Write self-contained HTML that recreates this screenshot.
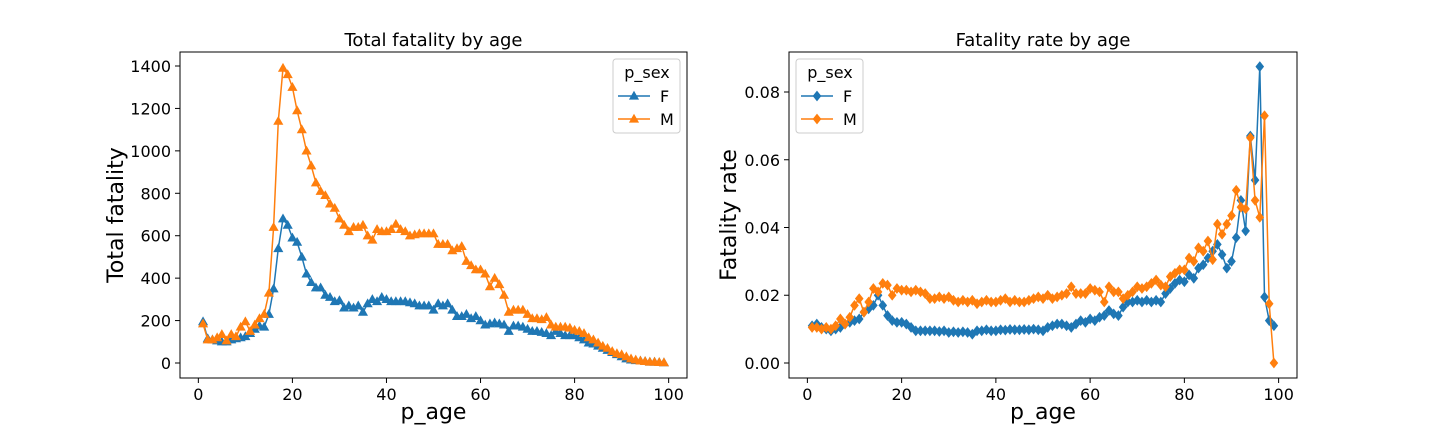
<!DOCTYPE html>
<html><head><meta charset="utf-8"><style>
body{margin:0;background:#fff;}
svg{display:block;font-family:"DejaVu Sans","Liberation Sans",sans-serif;}
</style></head><body>
<svg id="fig" width="1440" height="432" viewBox="0 0 1440 432" xmlns="http://www.w3.org/2000/svg"></svg>
<script>
const ages = Array.from({length:99},(_,i)=>i+1);
const totalF = [195,115,110,105,100,100,110,115,120,125,140,160,175,170,230,350,540,680,650,590,570,500,420,380,355,355,320,310,290,295,260,270,260,270,240,280,300,290,310,300,290,290,290,290,285,280,270,270,270,250,280,270,280,250,220,220,230,210,220,200,180,185,190,185,180,150,175,175,170,160,150,150,145,140,130,150,140,130,130,130,120,110,95,90,80,70,60,50,40,30,20,15,12,10,8,5,5,3,2];
const totalM = [185,110,110,120,135,105,135,125,170,195,150,180,210,230,330,640,1140,1390,1360,1300,1190,1100,1000,930,850,810,790,750,730,680,650,620,640,640,650,600,580,630,620,620,630,655,630,620,600,605,610,610,610,610,560,560,560,530,540,550,480,460,440,440,420,360,400,370,320,240,250,250,250,230,210,210,205,215,180,170,170,170,165,155,150,140,120,110,95,80,70,55,45,40,30,20,15,10,8,5,5,3,2];
const rateF = [0.011,0.0115,0.0105,0.010,0.0095,0.010,0.0105,0.0115,0.012,0.0125,0.013,0.015,0.016,0.017,0.020,0.017,0.014,0.0125,0.012,0.012,0.0115,0.0105,0.0095,0.0095,0.0095,0.0095,0.0095,0.0093,0.0095,0.009,0.0092,0.009,0.0092,0.009,0.0085,0.0095,0.0095,0.0098,0.0095,0.0095,0.0098,0.0097,0.0099,0.0098,0.0098,0.0099,0.0098,0.010,0.0098,0.0095,0.0105,0.011,0.0115,0.0115,0.011,0.0105,0.0115,0.0125,0.012,0.013,0.0125,0.0135,0.014,0.0155,0.0145,0.014,0.0165,0.018,0.018,0.0185,0.018,0.0185,0.018,0.0185,0.018,0.0205,0.022,0.0235,0.0245,0.024,0.026,0.025,0.028,0.029,0.031,0.033,0.035,0.032,0.028,0.030,0.037,0.048,0.039,0.067,0.054,0.0875,0.0195,0.0125,0.011];
const rateM = [0.0105,0.0105,0.010,0.0105,0.010,0.011,0.013,0.0115,0.0135,0.017,0.019,0.015,0.018,0.022,0.021,0.0235,0.023,0.020,0.022,0.0215,0.0215,0.021,0.0215,0.021,0.0205,0.019,0.019,0.0195,0.019,0.0195,0.0185,0.018,0.0185,0.018,0.0185,0.0175,0.018,0.0185,0.018,0.018,0.0185,0.019,0.018,0.0185,0.018,0.018,0.0185,0.019,0.0195,0.019,0.020,0.019,0.0195,0.020,0.0205,0.0225,0.0205,0.0205,0.0205,0.022,0.0215,0.021,0.018,0.0225,0.021,0.021,0.019,0.020,0.021,0.0225,0.022,0.0225,0.0235,0.0245,0.023,0.0225,0.0255,0.0265,0.0275,0.0275,0.031,0.030,0.034,0.033,0.036,0.0305,0.041,0.038,0.041,0.0435,0.051,0.046,0.0455,0.0665,0.048,0.043,0.073,0.0175,0.0];
const xTicks = [0,20,40,60,80,100];
const yTicksL = [0,200,400,600,800,1000,1200,1400];
const yTicksR = [0,0.02,0.04,0.06,0.08];

const NS="http://www.w3.org/2000/svg";
const svg=document.getElementById('fig');
function mk(tag,attrs,parent){const e=document.createElementNS(NS,tag);for(const k in attrs)e.setAttribute(k,attrs[k]);(parent||svg).appendChild(e);return e;}
const BLUE='#1f77b4', ORANGE='#ff7f0e';

function tri(g,x,y,c){const s=4.2;const p=mk('polygon',{points:`${x},${y-s} ${x-s},${y+s*0.75} ${x+s},${y+s*0.75}`,fill:c,stroke:c,'stroke-width':1},g);return p;}
function dia(g,x,y,c){const s=4.6;const p=mk('polygon',{points:`${x},${y-s} ${x+s*0.8},${y} ${x},${y+s} ${x-s*0.8},${y}`,fill:c,stroke:c,'stroke-width':1},g);return p;}

function panel(o){
  const g=mk('g',{});
  
  
  const {x0,x1,y0,y1,xmin,xmax,ymin,ymax}=o;
  const sx=v=>x0+(v-xmin)/(xmax-xmin)*(x1-x0);
  const sy=v=>y1-(v-ymin)/(ymax-ymin)*(y1-y0);
  xTicks.forEach(t=>{
    const X=sx(t);
    mk('line',{x1:X,x2:X,y1:y1,y2:y1+5,stroke:'#000','stroke-width':1},g);
    const tx=mk('text',{x:X,y:y1+22,'font-size':16,'text-anchor':'middle',fill:'#000'},g);tx.textContent=t;
    
    
  });
  o.yTicks.forEach(t=>{
    const Y=sy(t);
    mk('line',{x1:x0-5,x2:x0,y1:Y,y2:Y,stroke:'#000','stroke-width':1},g);
    const tx=mk('text',{x:x0-9,y:Y+6,'font-size':16,'text-anchor':'end',fill:'#000'},g);tx.textContent=o.fmt(t);
    
    
  });
  o.series.forEach(s=>{
    const sg=mk('g',{},g);
    
    
    const pts=ages.map((a,i)=>`${sx(a).toFixed(1)},${sy(s.vals[i]).toFixed(1)}`).join(' ');
    mk('polyline',{points:pts,fill:'none',stroke:s.color,'stroke-width':1.5,'stroke-linejoin':'round'},sg);
    ages.forEach((a,i)=>{const m=o.marker(sg,sx(a),sy(s.vals[i]),s.color);
      
      });
  });
  mk('rect',{x:x0,y:y0,width:x1-x0,height:y1-y0,fill:'none',stroke:'#000','stroke-width':1},g);
  const t=mk('text',{x:(x0+x1)/2,y:y0-6,'font-size':18,'text-anchor':'middle',fill:'#000'},g);t.textContent=o.title;
  
  
  const xl=mk('text',{x:(x0+x1)/2,y:y1+41,'font-size':22,'text-anchor':'middle',fill:'#000'},g);xl.textContent='p_age';
  
  
  const yl=mk('text',{x:0,y:0,'font-size':22,'text-anchor':'middle',fill:'#000',transform:`translate(${o.ylx},${(y0+y1)/2}) rotate(-90)`},g);yl.textContent=o.ylabel;
  
  
  const lg=mk('g',{},g);
  
  
  const L=o.legX, T=59;
  mk('rect',{x:L,y:T,width:67,height:74,rx:3,fill:'#fff',stroke:'#ccc','stroke-width':1},lg);
  const lt=mk('text',{x:L+34,y:T+19,'font-size':16,'text-anchor':'middle',fill:'#000'},lg);lt.textContent='p_sex';
  
  
  o.series.forEach((s,i)=>{
    const Y=T+37+i*23;
    const eg=mk('g',{},lg);
    
    
    mk('line',{x1:L+5,x2:L+37,y1:Y,y2:Y,stroke:s.color,'stroke-width':1.5},eg);
    o.marker(eg,L+21,Y,s.color);
    const et=mk('text',{x:L+47,y:Y+6,'font-size':16,fill:'#000'},eg);et.textContent=s.label;
  });
}

panel({name:'total-fatality-chart',x0:180,x1:687,y0:52,y1:378,xmin:-3.9,xmax:103.9,ymin:-70.7,ymax:1466,
  yTicks:yTicksL,fmt:t=>String(t),title:'Total fatality by age',ylabel:'Total fatality',ylx:123,legX:613,marker:tri,
  series:[{name:'series-f',label:'F',color:BLUE,vals:totalF},{name:'series-m',label:'M',color:ORANGE,vals:totalM}]});
panel({name:'fatality-rate-chart',x0:789,x1:1297,y0:52,y1:378,xmin:-3.9,xmax:103.9,ymin:-0.00443,ymax:0.09181,
  yTicks:yTicksR,fmt:t=>t.toFixed(2),title:'Fatality rate by age',ylabel:'Fatality rate',ylx:736,legX:796,marker:dia,
  series:[{name:'series-f',label:'F',color:BLUE,vals:rateF},{name:'series-m',label:'M',color:ORANGE,vals:rateM}]});
</script>
</body></html>
